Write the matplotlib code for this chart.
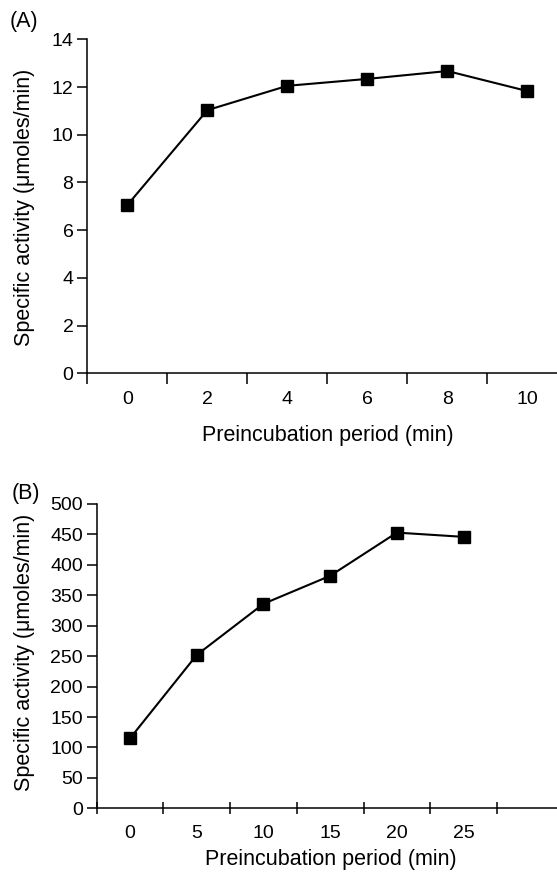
import numpy as np
import matplotlib
matplotlib.use("Agg")
import matplotlib.pyplot as plt
from matplotlib.ticker import FixedLocator

plt.rcParams["font.family"] = ["Liberation Sans", "DejaVu Sans"]

# panel A
time_a = [0, 2, 4, 6, 8, 10]
act_a = [7.05, 11.03, 12.05, 12.34, 12.67, 11.83]
yticks_a = [0, 2, 4, 6, 8, 10, 12, 14]

# panel B
time_b = [0, 5, 10, 15, 20, 25]
act_b = [115, 252, 336, 382, 453, 446]
yticks_b = [0, 50, 100, 150, 200, 250, 300, 350, 400, 450, 500]

W, H = 557, 876
fig = plt.figure(figsize=(W / 100, H / 100), dpi=100)

ylab = "Specific activity (\u03bcmoles/min)"
xlab = "Preincubation period (min)"
fs_tick = 14
fs_lab = 15.5


def style(ax, xdir, xpad):
    for s in ("top", "right"):
        ax.spines[s].set_visible(False)
    for s in ("left", "bottom"):
        ax.spines[s].set_linewidth(1.1)
    ax.tick_params(axis="y", direction="out", length=7, width=1.1,
                   labelsize=fs_tick, pad=3)
    ax.tick_params(axis="x", which="major", length=0, labelsize=fs_tick, pad=xpad)
    ax.tick_params(axis="x", which="minor", direction=xdir, length=8, width=1.1)


def px_box(left, top, bottom):
    return [left / W, 1 - bottom / H, 1 - left / W, (bottom - top) / H]


# (A)
ax = fig.add_axes(px_box(87.3, 39.3, 373.3))
ax.plot(time_a, act_a, "-s", color="black", lw=1.5, ms=9)
ax.set_xlim(-1, 10.74)
ax.set_ylim(0, 14)
ax.set_yticks(yticks_a)
ax.set_xticks(time_a)
ax.xaxis.set_minor_locator(FixedLocator(np.array(time_a) - 1))
style(ax, "out", 13)

# (B)
ax = fig.add_axes(px_box(96.7, 504, 808.3))
ax.plot(time_b, act_b, "-s", color="black", lw=1.5, ms=9)
ax.set_xlim(-2.5, 32.0)
ax.set_ylim(0, 500)
ax.set_yticks(yticks_b)
ax.set_xticks(time_b)
ax.xaxis.set_minor_locator(FixedLocator(np.array(time_b + [30]) - 2.5))
style(ax, "inout", 12)

fig.text(10 / W, 1 - 21 / H, "(A)", fontsize=fs_lab, ha="left", va="center")
fig.text(12 / W, 1 - 494 / H, "(B)", fontsize=fs_lab, ha="left", va="center")
fig.text(25 / W, 1 - 207 / H, ylab, fontsize=fs_lab, rotation=90,
         ha="center", va="center")
fig.text(25 / W, 1 - 652 / H, ylab, fontsize=fs_lab, rotation=90,
         ha="center", va="center")
fig.text(328 / W, 1 - 435 / H, xlab, fontsize=fs_lab, ha="center", va="center")
fig.text(331 / W, 1 - 859 / H, xlab, fontsize=fs_lab, ha="center", va="center")

fig.savefig("out.png", dpi=100)
